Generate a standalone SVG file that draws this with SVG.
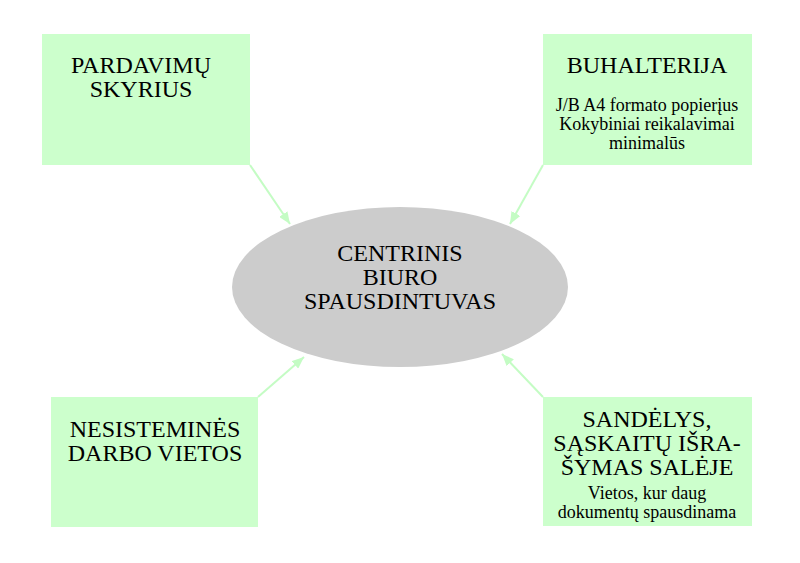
<svg xmlns="http://www.w3.org/2000/svg" width="800" height="563" viewBox="0 0 800 563">
<style>
.box{fill:#ccffcc;stroke:none}
.t{font-family:"Liberation Serif","Times New Roman",serif;fill:#000;text-anchor:middle}
.big{font-size:24px}
.small{font-size:18px}
.edge{stroke:#c4fcc4;stroke-width:2;fill:none}
</style>
<defs>
<marker id="ah" viewBox="0 0 12 10" refX="12" refY="5" markerWidth="12" markerHeight="10" markerUnits="userSpaceOnUse" orient="auto">
<path d="M0,0 L12,5 L0,10 Z" fill="#c4fcc4"/>
</marker>
</defs>
<rect width="800" height="563" fill="#fff"/>
<g id="connectors">
<line class="edge" x1="250" y1="165" x2="290" y2="224" marker-end="url(#ah)"/>
<line class="edge" x1="543" y1="165" x2="510" y2="224" marker-end="url(#ah)"/>
<line class="edge" x1="258" y1="397" x2="304" y2="357" marker-end="url(#ah)"/>
<line class="edge" x1="543" y1="397" x2="502" y2="354" marker-end="url(#ah)"/>
</g>
<g id="center">
<ellipse cx="400" cy="287" rx="168" ry="80" fill="#cccccc"/>
<text class="t big" x="400" y="261">CENTRINIS</text>
<text class="t big" x="400" y="285">BIURO</text>
<text class="t big" x="400" y="309">SPAUSDINTUVAS</text>
</g>
<g id="pardavimu">
<rect class="box" x="42" y="34" width="208" height="131"/>
<text class="t big" x="141" y="73">PARDAVIMŲ</text>
<text class="t big" x="141" y="97">SKYRIUS</text>
</g>
<g id="buhalterija">
<rect class="box" x="543" y="34" width="209" height="131"/>
<text class="t big" x="647" y="73">BUHALTERIJA</text>
<text class="t small" x="647" y="111">J/B A4 formato popierįus</text>
<text class="t small" x="647" y="130">Kokybiniai reikalavimai</text>
<text class="t small" x="647" y="149">minimalūs</text>
</g>
<g id="nesistemines">
<rect class="box" x="51" y="397" width="207" height="130"/>
<text class="t big" x="155" y="437">NESISTEMINĖS</text>
<text class="t big" x="155" y="461">DARBO VIETOS</text>
</g>
<g id="sandelys">
<rect class="box" x="543" y="397" width="209" height="129"/>
<text class="t big" x="647" y="427">SANDĖLYS,</text>
<text class="t big" x="647" y="451">SĄSKAITŲ IŠRA-</text>
<text class="t big" x="647" y="475">ŠYMAS SALĖJE</text>
<text class="t small" x="647" y="499">Vietos, kur daug</text>
<text class="t small" x="647" y="518">dokumentų spausdinama</text>
</g>
</svg>
